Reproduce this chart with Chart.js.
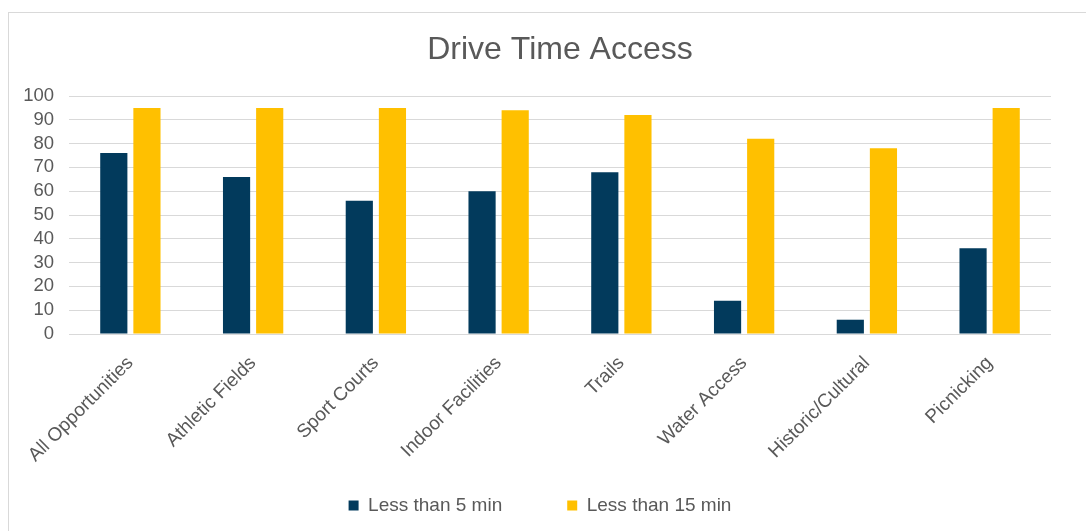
<!DOCTYPE html>
<html>
<head>
<meta charset="utf-8">
<script src="https://cdn.jsdelivr.net/npm/chart.js@4.4.1/dist/chart.umd.min.js"></script>
<style>
  html, body { margin: 0; padding: 0; background: #fff; }
  #frame {
    position: absolute; left: 8px; top: 12px;
    width: 1078px; height: 519px;
    border-top: 1px solid #d9d9d9; border-left: 1px solid #d9d9d9;
  }
  #box { position: relative; width: 1077px; height: 518px; }
</style>
</head>
<body>
<div id="frame"><div id="box"><canvas id="driveChart"></canvas></div></div>
<script>
const categories = ["All Opportunities", "Athletic Fields", "Sport Courts", "Indoor Facilities",
    "Trails", "Water Access", "Historic/Cultural", "Picnicking"];
const lessThan5 = [76, 66, 56, 60, 68, 14, 6, 36];
const lessThan15 = [95, 95, 95, 94, 92, 82, 78, 95];
const seriesNames = ["Less than 5 min", "Less than 15 min"];
const yTicks = [0, 10, 20, 30, 40, 50, 60, 70, 80, 90, 100];

const textColor = "#595959";
const gridColor = "#d9d9d9";
const fontFamily = "'Liberation Sans', Arial, sans-serif";

// labels may spill outside their axis box (the boxes are kept tight on purpose)
function noLabelClip() { return undefined; }

new Chart(document.getElementById("driveChart").getContext("2d"), {
    type: "bar",
    data: {
        labels: categories,
        datasets: [{
            label: seriesNames[0],
            data: lessThan5,
            backgroundColor: "#023a5c"
        }, {
            label: seriesNames[1],
            data: lessThan15,
            backgroundColor: "#ffc000"
        }]
    },
    options: {
        responsive: true,
        maintainAspectRatio: false,
        animation: false,
        datasets: {
            bar: { barPercentage: 0.82, categoryPercentage: 0.54 }
        },
        layout: {
            padding: { top: 0, left: 20, right: 35, bottom: 6 }
        },
        scales: {
            x: {
                grid: { display: false },
                border: { display: false },
                ticks: {
                    color: textColor,
                    font: { family: fontFamily, size: 19 },
                    maxRotation: 45,
                    minRotation: 45,
                    autoSkip: false,
                    padding: 10
                },
                afterFit: function(scale) {
                    // rotated labels hang down into the empty top part of the legend box
                    scale.height = 97;
                    scale.paddingLeft = 0;
                    scale.paddingRight = 0;
                    scale._computeLabelArea = noLabelClip;
                }
            },
            y: {
                min: 0,
                max: 100,
                afterBuildTicks: function(scale) {
                    scale.ticks = yTicks.map(v => ({ value: v }));
                },
                afterFit: function(scale) {
                    scale.width = 40;
                    scale._computeLabelArea = noLabelClip;
                },
                grid: { color: gridColor, lineWidth: 1, drawTicks: false },
                border: { display: false },
                ticks: {
                    color: textColor,
                    font: { family: fontFamily, size: 18.5 },
                    autoSkip: false,
                    padding: 15
                }
            }
        },
        plugins: {
            title: {
                display: true,
                text: "Drive Time Access",
                color: textColor,
                fullSize: false,
                font: { family: fontFamily, size: 32, weight: "normal" },
                padding: { top: 18, bottom: 26.6 }
            },
            legend: {
                display: true,
                position: "bottom",
                labels: {
                    color: textColor,
                    font: { family: fontFamily, size: 19 },
                    boxWidth: 10,
                    boxHeight: 10,
                    padding: 65
                }
            },
            tooltip: { enabled: false }
        }
    }
});
</script>
</body>
</html>
